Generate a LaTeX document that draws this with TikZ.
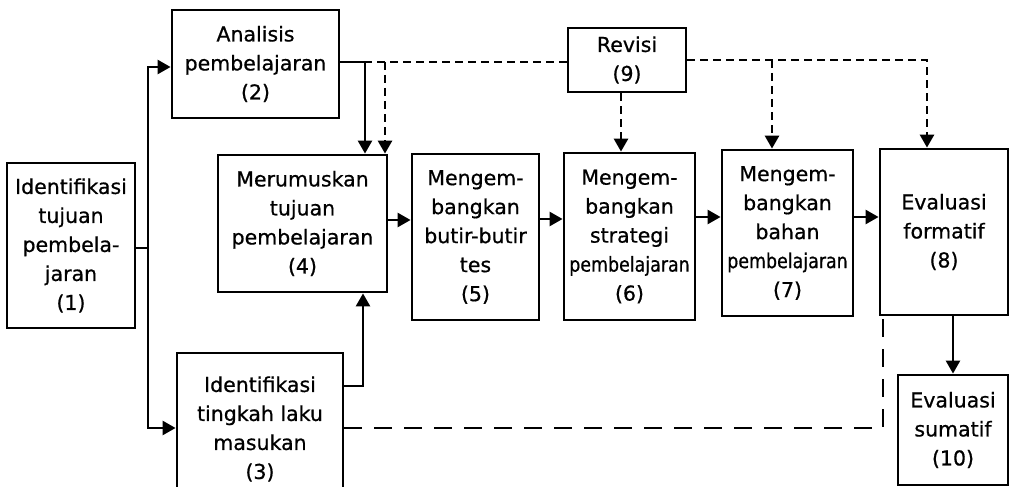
\documentclass[tikz,border=0pt]{standalone}
\usepackage{fontspec}
\setmainfont[FakeBold=0.7]{DejaVu Sans}
\usetikzlibrary{arrows.meta}
\tikzset{
  box/.style={draw, line width=2.8pt, inner sep=0pt, align=center,
    font=\fontsize{20.5}{29}\selectfont},
  tip/.style={-{Triangle[length=13pt,width=14pt]}},
  conn/.style={line width=2.5pt},
  arr/.style={conn, tip},
  dsh/.style={line width=2.8pt, dash pattern=on 8pt off 5pt},
  ldsh/.style={line width=2.5pt, dash pattern=on 18pt off 12pt},
}
\newcommand{\sqz}[2]{\scalebox{#1}[1]{#2}}
\begin{document}
\begin{tikzpicture}[x=1pt,y=-1pt]
\useasboundingbox (0,0) rectangle (1010,487);
\clip (0,0) rectangle (1010,487);
\node[box, minimum width=128pt, minimum height=165pt] (b1) at (71,245.5) {Identifikasi\\tujuan\\pembela-\\jaran\\(1)};
\node[box, minimum width=167pt, minimum height=108pt] (b2) at (255.5,64) {Analisis\\pembelajaran\\(2)};
\node[box, minimum width=169pt, minimum height=137pt] (b4) at (302.5,223.5) {Merumuskan\\tujuan\\pembelajaran\\(4)};
\node[box, minimum width=166pt, minimum height=152pt] (b3) at (260,429) {Identifikasi\\tingkah laku\\masukan\\(3)};
\node[box, minimum width=127pt, minimum height=166pt] (b5) at (475.5,237) {Mengem-\\bangkan\\butir-butir\\tes\\(5)};
\node[box, minimum width=131pt, minimum height=167pt] (b6) at (629.5,236.5) {Mengem-\\bangkan\\strategi\\\sqz{0.85}{pembelajaran}\\(6)};
\node[box, minimum width=131pt, minimum height=166pt] (b7) at (787.5,233) {Mengem-\\bangkan\\bahan\\\sqz{0.85}{pembelajaran}\\(7)};
\node[box, minimum width=128pt, minimum height=166pt] (b8) at (944,232) {Evaluasi\\formatif\\(8)};
\node[box, minimum width=118pt, minimum height=64pt] (b9) at (627,60) {Revisi\\(9)};
\node[box, minimum width=110pt, minimum height=110pt] (b10) at (953,430) {Evaluasi\\sumatif\\(10)};
\coordinate (d8) at (883,319);
% trunk from (1)
\draw[conn] (b1.east |- 0,248) -- (148,248);
\draw[arr] (148,248) |- (b2.west |- 0,67);
\draw[arr] (148,248) |- (b3.west |- 0,428);
% (2) -> (4)
\draw[arr] (b2.east |- 0,62) -| (b4.north -| 365,0);
% revisi feedback
\draw[dsh] (b9.west |- 0,62) -- (365,62);
\draw[dsh, tip] (385,62) -- (b4.north -| 385,0);
\draw[dsh, tip] (b9.south -| 621,0) -- (b6.north -| 621,0);
\draw[dsh, tip] (b9.east |- 0,60) -| (b8.north -| 927,0);
\draw[dsh, tip] (772,60) -- (b7.north -| 772,0);
% main chain
\draw[arr] (b4.east |- 0,220) -- (b5.west |- 0,220);
\draw[arr] (b5.east |- 0,219) -- (b6.west |- 0,219);
\draw[arr] (b6.east |- 0,217) -- (b7.west |- 0,217);
\draw[arr] (b7.east |- 0,217) -- (b8.west |- 0,217);
% (3) -> (4)
\draw[arr] (b3.east |- 0,386) -| (b4.south -| 363,0);
% (3) dashed to (8)
\draw[ldsh] (b3.east |- 0,428) -| (d8);
% (8) -> (10)
\draw[arr] (b8.south -| b10.north) -- (b10.north);
\end{tikzpicture}
\end{document}
